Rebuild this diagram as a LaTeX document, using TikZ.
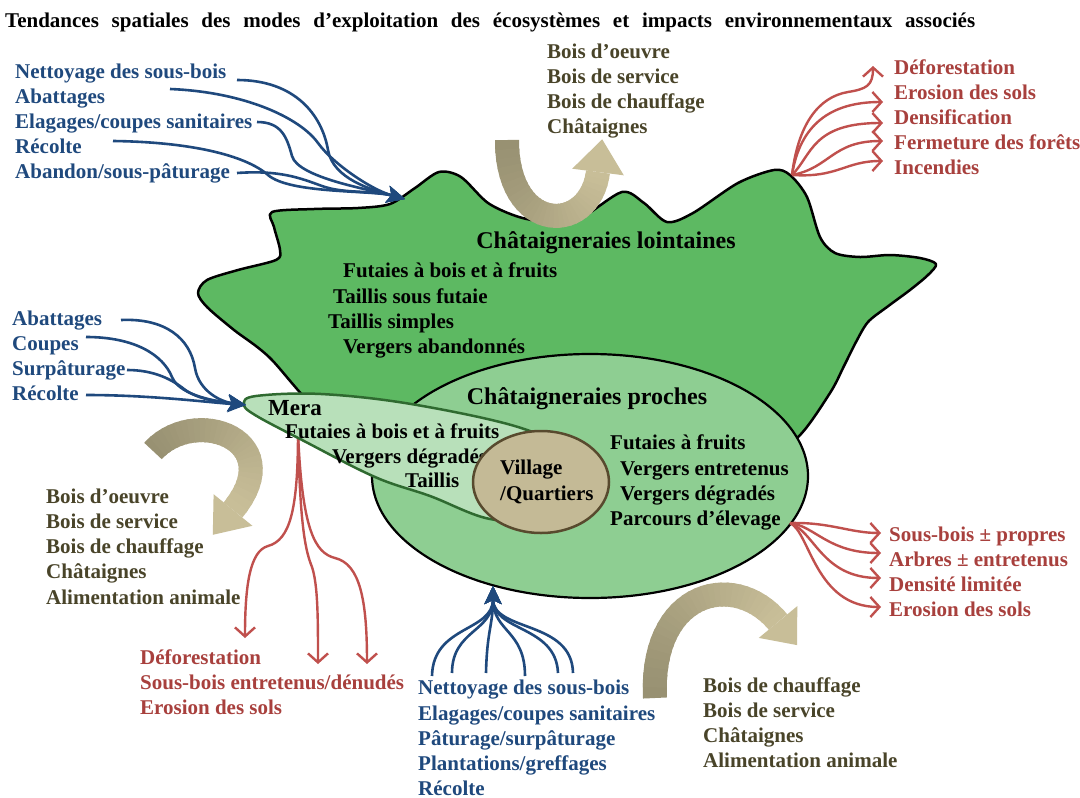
\documentclass[tikz,border=0pt]{standalone}
\usepackage{fontspec}
\setmainfont{Liberation Serif}
\usetikzlibrary{arrows.meta,calc}
\definecolor{blobgreen}{HTML}{5DB962}
\definecolor{prochegreen}{HTML}{8ECE92}
\definecolor{meragreen}{HTML}{B8E0BA}
\definecolor{meraedge}{HTML}{2F6A30}
\definecolor{villfill}{HTML}{C4BA96}
\definecolor{villedge}{HTML}{584A2E}
\definecolor{lineblue}{HTML}{1F497D}
\definecolor{txtblue}{HTML}{1F497D}
\definecolor{linered}{HTML}{C0504D}
\definecolor{txtred}{HTML}{A8403D}
\definecolor{txtolive}{HTML}{494429}
\definecolor{tanD}{HTML}{989172}
\definecolor{tanL}{HTML}{C8BE98}
\newcommand{\lblfont}{\fontsize{21}{25}\selectfont\bfseries}
\newcommand{\bigfont}{\fontsize{24}{28}\selectfont\bfseries}
\newcommand{\merafont}{\fontsize{23}{27}\selectfont\bfseries}
\newcommand{\tanarrow}[8]{%
  \foreach \k in {0,...,29}{%
    \pgfmathsetmacro{\tanA}{\k/30}%
    \pgfmathsetmacro{\tanB}{min(1,(\k+1.4)/30)}%
    \pgfmathtruncatemacro{\tanP}{100-\k*100/29}%
    \draw[line width=24pt, draw=tanD!\tanP!tanL] plot[domain=\tanA:\tanB, samples=4] ({bz(\x,#1,#3,#5,#7)},{bz(\x,#2,#4,#6,#8)});
  }}
\tikzset{
  lbl/.style={anchor=base west, inner sep=0pt, font=\lblfont},
  blab/.style={lbl, text=txtblue},
  rlab/.style={lbl, text=txtred},
  olab/.style={lbl, text=txtolive},
  klab/.style={lbl, text=black},
  bluearrow/.style={draw=lineblue, line width=2.6pt, -{Stealth[length=18pt,width=17pt,inset=4pt]}},
  redarrow/.style={draw=linered, line width=2.4pt, -{Straight Barb[length=9pt,width=20pt]}},
  blobstyle/.style={draw=black, line width=2.5pt, fill=blobgreen, line join=round},
  prochestyle/.style={draw=black, line width=2.2pt, fill=prochegreen},
  merastyle/.style={draw=meraedge, line width=2.5pt, fill=meragreen},
  villstyle/.style={draw=villedge, line width=2.5pt, fill=villfill}
}
\begin{document}
\begin{tikzpicture}[x=1pt,y=-1pt,
  declare function={bz(\t,\a,\b,\c,\d)=(1-\t)^3*\a+3*(1-\t)^2*\t*\b+3*(1-\t)*\t^2*\c+\t^3*\d;}]
\fill[white] (0,0) rectangle (1080,798);
\useasboundingbox (0,0) rectangle (1080,798);

% ---------- title
\node[anchor=base west, inner sep=0pt, font=\lblfont] (title) at (5,27)
  {\makebox[970pt][s]{Tendances spatiales des modes d’exploitation des écosystèmes et impacts environnementaux associés}};

% ---------- blob: chataigneraies lointaines
\draw[blobstyle] plot[smooth cycle, tension=0.5] coordinates {(272,212) (314,209) (358,208) (390,204) (415,188) (439,172) (461,177) (488,203) (519,217) (550,222) (582,217) (622,192) (644,203) (667,222) (693,213) (738,183) (774,170) (790,175) (807,197) (820,237) (835,253) (860,257) (890,255) (920,258) (936,264) (928,275) (910,290) (887,307) (868,322) (856,342) (844,366) (830,393) (798,437) (760,455) (600,455) (420,445) (330,420) (269,357) (234,330) (207,307) (198,293) (207,280) (238,270) (276,260) (280,250) (274,227)};

% ---------- top-left blue labels and arrows
\node[blab] (tl1) at (15,78.5) {Nettoyage des sous-bois};
\node[blab] (tl2) at (15,103.5) {Abattages};
\node[blab] (tl3) at (15,128.5) {Elagages/coupes sanitaires};
\node[blab] (tl4) at (15,153.5) {Récolte};
\node[blab] (tl5) at (15,178.5) {Abandon/sous-pâturage};
\coordinate (s1) at (237,80);
\coordinate (s2) at (170,89);
\coordinate (s3) at (257,122);
\coordinate (s4) at (113,141);
\coordinate (s5) at (237,173);
\coordinate (tipA) at (405,199);
\draw[bluearrow] (s1) .. controls (295,80) and (322,115) .. (328,150) .. controls (333,179) and (372,190) .. (tipA);
\draw[bluearrow] (s2) .. controls (245,92) and (300,118) .. (318,143) .. controls (333,164) and (372,190) .. (tipA);
\draw[bluearrow] (s3) .. controls (282,122) and (287,138) .. (292,156) .. controls (298,178) and (372,190) .. (tipA);
\draw[bluearrow] (s4) .. controls (190,142) and (245,155) .. (268,175) .. controls (290,194) and (372,190) .. (tipA);
\draw[bluearrow] (s5) .. controls (280,170) and (300,178) .. (322,186) .. controls (344,194) and (372,190) .. (tipA);

% ---------- top tan U arrow and products
\tanarrow{507}{140}{507}{235}{590}{235}{598}{172}
\fill[tanL] (572.2,168.7) -- (602.2,139.3) -- (623.8,175.3) -- cycle;
\node[olab] (to1) at (547,58.5) {Bois d’oeuvre};
\node[olab] (to2) at (547,83.5) {Bois de service};
\node[olab] (to3) at (547,108.5) {Bois de chauffage};
\node[olab] (to4) at (547,133.5) {Châtaignes};

% ---------- top-right red impacts
\coordinate (rtr) at (792,175);
\node[rlab] (tr1) at (894,74.5) {Déforestation};
\node[rlab] (tr2) at (894,99.5) {Erosion des sols};
\node[rlab] (tr3) at (894,124.5) {Densification};
\node[rlab] (tr4) at (894,149.5) {Fermeture des forêts};
\node[rlab] (tr5) at (894,174.5) {Incendies};
\draw[redarrow] (rtr) .. controls (798,125) and (818,97) .. (848,92) .. controls (866,89) and (873,86) .. (873,66);
\draw[redarrow] (rtr) .. controls (800,125) and (830,102) .. (883,102);
\draw[redarrow] (rtr) .. controls (812,155) and (812,123) .. (883,123);
\draw[redarrow] (rtr) .. controls (830,168) and (832,141) .. (883,141);
\draw[redarrow] (rtr) .. controls (838,178) and (845,161) .. (883,161);

% ---------- red arrows below Mera
\coordinate (rm) at (298,432);
\draw[redarrow] (rm) .. controls (298,510) and (290,540) .. (268,546) .. controls (250,551) and (245,585) .. (245,638);
\draw[redarrow] (rm) .. controls (300,530) and (306,552) .. (312,567) .. controls (318,585) and (318,620) .. (318,664);
\draw[redarrow] (rm) .. controls (302,530) and (315,553) .. (335,558) .. controls (360,564) and (367,600) .. (367,664);
\node[rlab] (bl1) at (140,664.5) {Déforestation};
\node[rlab] (bl2) at (140,689.5) {Sous-bois entretenus/dénudés};
\node[rlab] (bl3) at (140,714.5) {Erosion des sols};

% ---------- chataigneraies proches
\draw[prochestyle] (590,476) ellipse[x radius=218pt, y radius=122pt];

% ---------- Mera
\draw[merastyle] plot[smooth cycle, tension=0.6] coordinates {(244,404) (256,396) (321,394) (411,404) (518,427) (565,452) (575,490) (545,518) (490,519) (430,496) (375,477) (304,441) (255,415)};

% ---------- left-middle blue labels and arrows
\node[blab] (lm1) at (12,325.5) {Abattages};
\node[blab] (lm2) at (12,350.5) {Coupes};
\node[blab] (lm3) at (12,375.5) {Surpâturage};
\node[blab] (lm4) at (12,400.5) {Récolte};
\coordinate (m1) at (121,320);
\coordinate (m2) at (86,337);
\coordinate (m3) at (127,370);
\coordinate (m4) at (86,395);
\coordinate (tipM) at (246,405);
\draw[bluearrow] (m1) .. controls (165,318) and (190,338) .. (195,368) .. controls (199,392) and (222,402) .. (tipM);
\draw[bluearrow] (m2) .. controls (135,337) and (163,355) .. (172,377) .. controls (180,397) and (222,402) .. (tipM);
\draw[bluearrow] (m3) .. controls (152,370) and (170,378) .. (184,389) .. controls (198,400) and (222,402) .. (tipM);
\draw[bluearrow] (m4) .. controls (150,395) and (205,402) .. (tipM);

% ---------- left tan arrow and products
\tanarrow{153}{451}{195}{405}{290}{440}{233}{510}
\fill[tanL] (213.6,494.2) -- (212.8,534.8) -- (252.4,525.8) -- cycle;
\node[olab] (lo1) at (46,503.5) {Bois d’oeuvre};
\node[olab] (lo2) at (46,528.5) {Bois de service};
\node[olab] (lo3) at (46,553.5) {Bois de chauffage};
\node[olab] (lo4) at (46,578.5) {Châtaignes};
\node[olab] (lo5) at (46,604) {Alimentation animale};

% ---------- texts in lointaines
\node[anchor=base, inner sep=0pt, font=\bigfont] (ctl) at (606,248) {Châtaigneraies lointaines};
\node[klab] (li1) at (343,277.5) {Futaies à bois et à fruits};
\node[klab] (li2) at (333,303.5) {Taillis sous futaie};
\node[klab] (li3) at (328,328.5) {Taillis simples};
\node[klab] (li4) at (343,353.5) {Vergers abandonnés};

% ---------- texts in proches
\node[anchor=base, inner sep=0pt, font=\bigfont] (ctp) at (587,404) {Châtaigneraies proches};
\node[klab] (pr1) at (610,449.5) {Futaies à fruits};
\node[klab] (pr2) at (620,475.5) {Vergers entretenus};
\node[klab] (pr3) at (620,500.5) {Vergers dégradés};
\node[klab] (pr4) at (610,525.5) {Parcours d’élevage};

% ---------- texts in Mera
\node[anchor=base west, inner sep=0pt, font=\merafont] (mera) at (268,415) {Mera};
\node[klab] (me1) at (285,438.5) {Futaies à bois et à fruits};
\node[klab] (me2) at (332,463.5) {Vergers dégradés};
\node[klab] (me3) at (405,487.5) {Taillis};

% ---------- village
\draw[villstyle] (541,482) ellipse[x radius=68pt, y radius=51pt];
\node[klab] (vi1) at (500,474.5) {Village};
\node[klab] (vi2) at (500,500.5) {/Quartiers};

% ---------- bottom blue labels and arrows
\node[blab] (bb1) at (418,694.5) {Nettoyage des sous-bois};
\node[blab] (bb2) at (418,720) {Elagages/coupes sanitaires};
\node[blab] (bb3) at (418,745.5) {Pâturage/surpâturage};
\node[blab] (bb4) at (418,770.5) {Plantations/greffages};
\node[blab] (bb5) at (418,795.5) {Récolte};
\coordinate (btip) at (493,586);
\coordinate (b1) at (432,676);
\coordinate (b2) at (452,673);
\coordinate (b3) at (486,673);
\coordinate (b4) at (525,676);
\coordinate (b5) at (558,673);
\coordinate (b6) at (573,673);
\draw[bluearrow] (b1) .. controls (433,625) and (493,632) .. (btip);
\draw[bluearrow] (b2) .. controls (452,630) and (493,632) .. (btip);
\draw[bluearrow] (b3) .. controls (487,630) and (493,625) .. (btip);
\draw[bluearrow] (b4) .. controls (525,630) and (493,632) .. (btip);
\draw[bluearrow] (b5) .. controls (556,625) and (493,632) .. (btip);
\draw[bluearrow] (b6) .. controls (572,620) and (493,632) .. (btip);

% ---------- bottom tan arrow and products
\tanarrow{655}{698}{650}{590}{735}{570}{778}{622}
\fill[tanL] (797.3,606.1) -- (797.1,645.1) -- (758.8,637.9) -- cycle;
\node[olab] (bo1) at (703,692.5) {Bois de chauffage};
\node[olab] (bo2) at (703,717.5) {Bois de service};
\node[olab] (bo3) at (703,742.5) {Châtaignes};
\node[olab] (bo4) at (703,767.5) {Alimentation animale};

% ---------- bottom-right red impacts
\coordinate (rbr) at (790,523);
\draw[redarrow] (rbr) .. controls (830,522) and (850,533) .. (881,533);
\draw[redarrow] (rbr) .. controls (815,526) and (828,553) .. (881,553);
\draw[redarrow] (rbr) .. controls (815,532) and (822,578) .. (881,578);
\draw[redarrow] (rbr) .. controls (810,532) and (815,607) .. (881,607);
\node[rlab] (br1) at (889,541.5) {Sous-bois ± propres};
\node[rlab] (br2) at (889,566.5) {Arbres ± entretenus};
\node[rlab] (br3) at (889,591.5) {Densité limitée};
\node[rlab] (br4) at (889,616.5) {Erosion des sols};
\end{tikzpicture}
\end{document}
